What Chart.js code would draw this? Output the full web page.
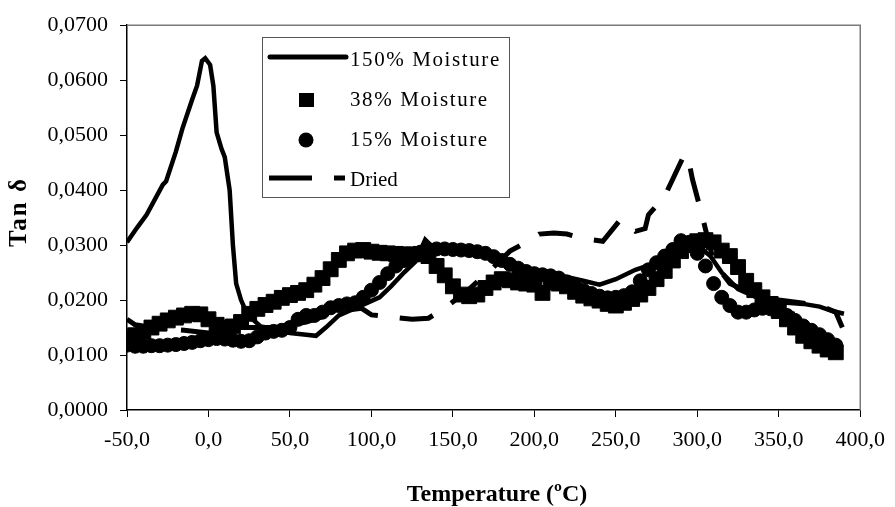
<!DOCTYPE html>
<html>
<head>
<meta charset="utf-8">
<script src="https://cdn.jsdelivr.net/npm/chart.js@4.4.0/dist/chart.umd.min.js"></script>
<style>
  html, body { margin: 0; padding: 0; background: #fff; }
  #wrap { width: 895px; height: 507px; position: relative; }
</style>
</head>
<body>
<div id="wrap"><canvas id="tanChart"></canvas></div>
<script>
// 150% moisture - solid line
const moist150Temp = [-50, -44, -38, -28, -26, -20, -16, -10, -7, -4, -2, 1, 3, 5, 8, 10, 13, 15, 17, 20, 23, 27, 32,
  40, 50, 60, 66, 72, 80, 90, 96, 105, 112, 120, 127, 133, 138, 150, 170, 180, 190, 200, 215, 230, 240, 250,
  262, 272, 282, 292, 300, 308, 315, 325, 340, 355, 365, 375, 383, 390];
const moist150Tan = [0.0305, 0.0331, 0.0355, 0.0410, 0.0416, 0.0470, 0.0512, 0.0565, 0.0590, 0.0635, 0.0640, 0.0628, 0.0590, 0.0505, 0.0475, 0.0460, 0.0400, 0.0300, 0.0230, 0.0200, 0.0180, 0.0165, 0.0152,
  0.0148, 0.0140, 0.0137, 0.0135, 0.0150, 0.0172, 0.0185, 0.0193, 0.0205, 0.0225, 0.0250, 0.0270, 0.0310, 0.0295, 0.0292, 0.0285, 0.0270, 0.0260, 0.0250, 0.0245, 0.0235, 0.0228, 0.0238,
  0.0255, 0.0265, 0.0280, 0.0295, 0.0300, 0.0280, 0.0250, 0.0220, 0.0200, 0.0195, 0.0193, 0.0188, 0.0180, 0.0175];

// 38% moisture - squares
const moist38Temp = [-50, -45, -40, -35, -30, -25, -20, -15, -10, -5, 0, 5, 10, 15, 20, 25, 30, 35, 40, 45, 50, 55, 60, 65, 70, 75, 80, 85, 90, 95,
  100, 105, 110, 115, 120, 125, 130, 135, 140, 145, 150, 155, 160, 165, 170, 175, 180, 185, 190, 195, 200, 205, 210, 215, 220, 225, 230, 235, 240, 245,
  250, 255, 260, 265, 270, 275, 280, 285, 290, 295, 300, 305, 310, 315, 320, 325, 330, 335, 340, 345, 350, 355, 360, 365, 370, 375, 380, 385];
const moist38Tan = [0.0130, 0.0136, 0.0142, 0.0150, 0.0157, 0.0163, 0.0168, 0.0172, 0.0175, 0.0174, 0.0165, 0.0155, 0.0150, 0.0152, 0.0160, 0.0175, 0.0184, 0.0191, 0.0197, 0.0204, 0.0209, 0.0213, 0.0218, 0.0228, 0.0240, 0.0256, 0.0273, 0.0285, 0.0290, 0.0291,
  0.0288, 0.0286, 0.0285, 0.0284, 0.0283, 0.0283, 0.0284, 0.0280, 0.0262, 0.0245, 0.0225, 0.0210, 0.0207, 0.0210, 0.0222, 0.0232, 0.0238, 0.0236, 0.0232, 0.0230, 0.0228, 0.0213, 0.0232, 0.0230, 0.0225, 0.0215, 0.0208, 0.0203, 0.0199, 0.0193,
  0.0190, 0.0195, 0.0202, 0.0210, 0.0222, 0.0238, 0.0253, 0.0272, 0.0289, 0.0300, 0.0307, 0.0309, 0.0305, 0.0290, 0.0280, 0.0260, 0.0235, 0.0218, 0.0205, 0.0193, 0.0180, 0.0165, 0.0150, 0.0135, 0.0125, 0.0117, 0.0110, 0.0105];

// 15% moisture - circles
const moist15Temp = [-50, -45, -40, -35, -30, -25, -20, -15, -10, -5, 0, 5, 10, 15, 20, 25, 30, 35, 40, 45, 50, 55, 60, 65, 70, 75, 80, 85, 90, 95,
  100, 105, 110, 115, 120, 125, 130, 135, 140, 145, 150, 155, 160, 165, 170, 175, 180, 185, 190, 195, 200, 205, 210, 215, 220, 225, 230, 235, 240, 245,
  250, 255, 260, 265, 270, 275, 280, 285, 290, 295, 300, 305, 310, 315, 320, 325, 330, 335, 340, 345, 350, 355, 360, 365, 370, 375, 380, 385];
const moist15Tan = [0.0118, 0.0116, 0.0116, 0.0117, 0.0117, 0.0118, 0.0119, 0.0121, 0.0123, 0.0126, 0.0128, 0.0130, 0.0129, 0.0127, 0.0125, 0.0126, 0.0133, 0.0140, 0.0143, 0.0145, 0.0150, 0.0165, 0.0172, 0.0172, 0.0178, 0.0186, 0.0190, 0.0193, 0.0195, 0.0205,
  0.0218, 0.0232, 0.0248, 0.0262, 0.0272, 0.0280, 0.0287, 0.0292, 0.0293, 0.0293, 0.0292, 0.0291, 0.0290, 0.0288, 0.0285, 0.0279, 0.0272, 0.0265, 0.0258, 0.0252, 0.0248, 0.0246, 0.0244, 0.0240, 0.0233, 0.0225, 0.0218, 0.0212, 0.0207, 0.0204,
  0.0205, 0.0208, 0.0215, 0.0235, 0.0255, 0.0268, 0.0280, 0.0292, 0.0308, 0.0305, 0.0285, 0.0262, 0.0230, 0.0205, 0.0190, 0.0178, 0.0178, 0.0182, 0.0185, 0.0184, 0.0180, 0.0172, 0.0163, 0.0153, 0.0145, 0.0137, 0.0128, 0.0118];

// Dried - dashed line
const driedTemp = [-50, -45, -30, -15, 0, 20, 40, 60, 80, 94, 100, 110, 115, 125, 135, 145, 160, 175, 185, 195, 203, 212, 220, 230, 242,
  253, 262, 268, 270, 280, 291, 294, 297, 303, 310, 320, 335, 350, 363, 375, 385, 389];
const driedTan = [0.0165, 0.0155, 0.0148, 0.0145, 0.0140, 0.0150, 0.0150, 0.0160, 0.0180, 0.0185, 0.0173, 0.0170, 0.0168, 0.0165, 0.0167, 0.0185, 0.0220, 0.0260, 0.0289, 0.0305, 0.0320, 0.0322, 0.0320, 0.0312, 0.0307,
  0.0347, 0.0325, 0.0330, 0.0355, 0.0389, 0.0458, 0.0465, 0.0420, 0.0353, 0.0270, 0.0230, 0.0210, 0.0200, 0.0195, 0.0190, 0.0178, 0.0150];

const xTicks = [-50, 0, 50, 100, 150, 200, 250, 300, 350, 400];
const yTicks = [0, 0.01, 0.02, 0.03, 0.04, 0.05, 0.06, 0.07];

const serif = "'Liberation Serif', 'Times New Roman', serif";

function toPoints(xs, ys) {
    return xs.map((x, i) => ({ x: x, y: ys[i] }));
}

// frame + hand drawn legend + axis titles
const framePlugin = {
    id: 'framePlugin',
    beforeDatasetsDraw(chart) {
        const ctx = chart.ctx;
        const a = chart.chartArea;
        ctx.save();
        ctx.strokeStyle = '#7a7a7a';
        ctx.lineWidth = 1.5;
        ctx.beginPath();
        ctx.moveTo(a.left, a.top);
        ctx.lineTo(a.right, a.top);
        ctx.lineTo(a.right, a.bottom);
        ctx.stroke();
        ctx.restore();
    },
    afterDraw(chart) {
        const ctx = chart.ctx;
        ctx.save();

        // legend box
        ctx.fillStyle = '#fff';
        ctx.fillRect(262, 37, 247, 160);
        ctx.strokeStyle = '#555';
        ctx.lineWidth = 1;
        ctx.strokeRect(262.5, 37.5, 247, 160);

        ctx.fillStyle = '#000';
        ctx.strokeStyle = '#000';

        // 150% line sample
        ctx.lineWidth = 5;
        ctx.lineCap = 'round';
        ctx.beginPath();
        ctx.moveTo(270, 57);
        ctx.lineTo(346, 57);
        ctx.stroke();

        // square
        ctx.fillRect(299, 93, 15, 14);

        // circle
        ctx.beginPath();
        ctx.arc(306, 140, 7.5, 0, Math.PI * 2);
        ctx.fill();

        // dried sample
        ctx.lineCap = 'butt';
        ctx.beginPath();
        ctx.moveTo(269, 178);
        ctx.lineTo(312, 178);
        ctx.moveTo(334, 178);
        ctx.lineTo(345, 178);
        ctx.stroke();

        ctx.font = '21px ' + serif;
        ctx.textBaseline = 'middle';
        ctx.textAlign = 'left';
        ctx.letterSpacing = '1.6px';
        ctx.fillText('150% Moisture', 350, 60);
        ctx.fillText('38% Moisture', 350, 100);
        ctx.fillText('15% Moisture', 350, 140);
        ctx.letterSpacing = '0px';
        ctx.fillText('Dried', 350, 180);

        // axis titles
        ctx.font = 'bold 24px ' + serif;
        ctx.textAlign = 'center';
        ctx.fillText('Temperature (ºC)', 497, 495);

        ctx.translate(20, 212);
        ctx.rotate(-Math.PI / 2);
        ctx.font = 'bold 25px ' + serif;
        ctx.letterSpacing = '2px';
        ctx.fillText('Tan δ', 0, 0);
        ctx.restore();
    }
};

const ctx = document.getElementById('tanChart').getContext('2d');
new Chart(ctx, {
    type: 'scatter',
    data: {
        datasets: [{
            label: '150% Moisture',
            data: toPoints(moist150Temp, moist150Tan),
            showLine: true,
            borderColor: '#000',
            borderWidth: 4.5,
            pointRadius: 0,
            tension: 0
        }, {
            label: '38% Moisture',
            data: toPoints(moist38Temp, moist38Tan),
            showLine: false,
            pointStyle: 'rect',
            pointRadius: 10.5,
            pointBackgroundColor: '#000',
            pointBorderColor: '#000',
            pointBorderWidth: 1
        }, {
            label: '15% Moisture',
            data: toPoints(moist15Temp, moist15Tan),
            showLine: false,
            pointStyle: 'circle',
            pointRadius: 7,
            pointBackgroundColor: '#000',
            pointBorderColor: '#000',
            pointBorderWidth: 1
        }, {
            label: 'Dried',
            data: toPoints(driedTemp, driedTan),
            showLine: true,
            borderColor: '#000',
            borderWidth: 5,
            borderDash: [34, 22],
            pointRadius: 0,
            tension: 0
        }]
    },
    options: {
        responsive: true,
        maintainAspectRatio: false,
        animation: false,
        layout: { padding: { top: 23, right: 29, left: 0, bottom: 0 } },
        plugins: {
            legend: { display: false },
            tooltip: { enabled: false }
        },
        scales: {
            x: {
                type: 'linear',
                min: -50,
                max: 400,
                afterBuildTicks: (scale) => { scale.ticks = xTicks.map(v => ({ value: v })); },
                afterFit: (scale) => { scale.height = 97; },
                ticks: {
                    color: '#000',
                    font: { family: serif, size: 22 },
                    padding: 10,
                    maxRotation: 0,
                    callback: (v) => v.toFixed(1).replace('.', ',')
                },
                grid: { drawOnChartArea: false, drawTicks: true, tickLength: 7, color: '#000' },
                border: { color: '#000', width: 1.5 }
            },
            y: {
                min: 0,
                max: 0.07,
                afterBuildTicks: (scale) => { scale.ticks = yTicks.map(v => ({ value: v })); },
                afterFit: (scale) => { scale.width = 127; },
                ticks: {
                    color: '#000',
                    font: { family: serif, size: 22 },
                    padding: 12,
                    callback: (v) => v.toFixed(4).replace('.', ',')
                },
                grid: { drawOnChartArea: false, drawTicks: true, tickLength: 7, color: '#000' },
                border: { color: '#000', width: 1.5 }
            }
        }
    },
    plugins: [framePlugin]
});
</script>
</body>
</html>
